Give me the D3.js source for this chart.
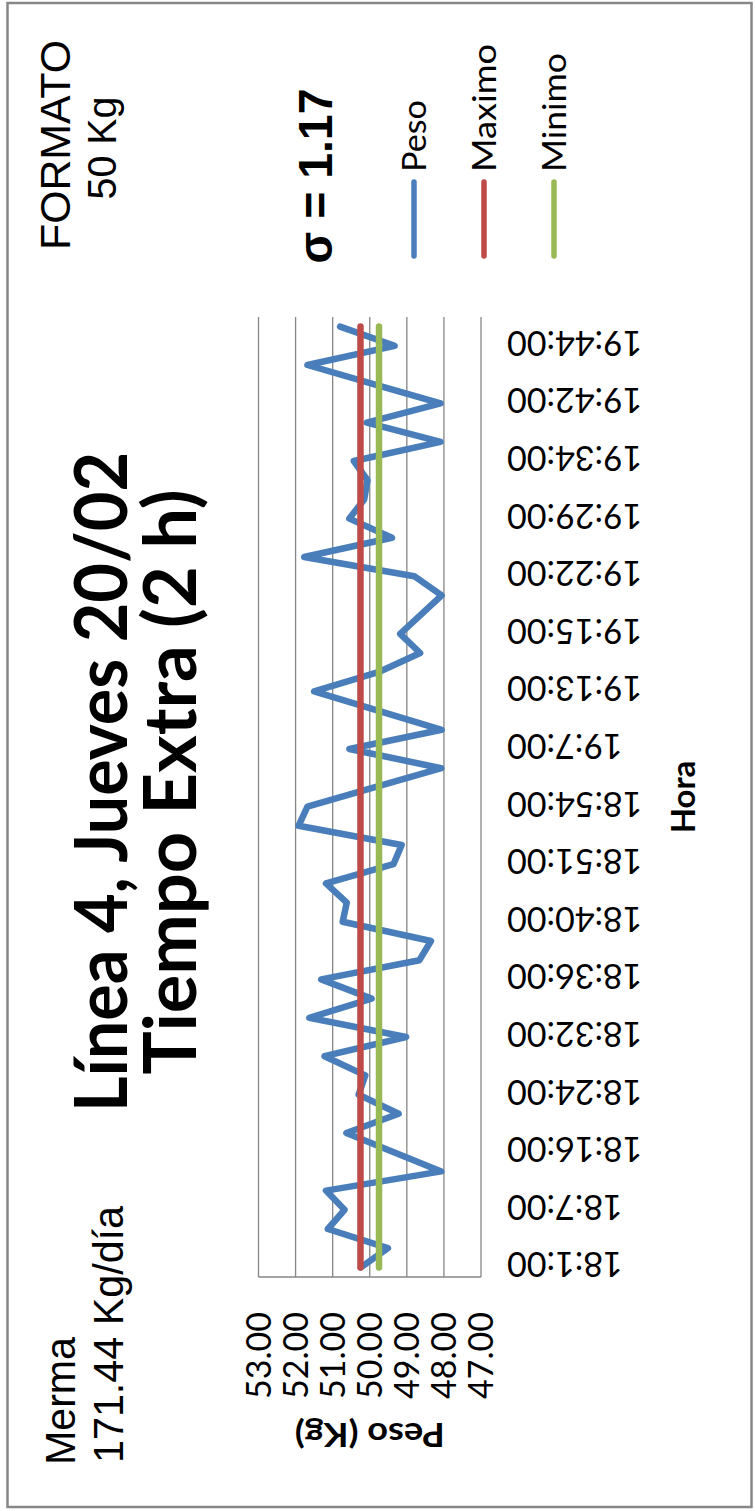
<!DOCTYPE html>
<html>
<head>
<meta charset="utf-8">
<script src="https://cdn.jsdelivr.net/npm/d3@7"></script>
<style>
  html, body { margin: 0; padding: 0; background: #fff; }
  svg { display: block; }
</style>
</head>
<body>
<div id="chart"></div>
<script>
// Peso (Kg) por muestra, de abajo (18:1:00) hacia arriba (19:44:00)
const peso = [
    50.24, 49.51, 51.13, 50.68, 51.18, 48.07, 49.35, 50.63, 49.22, 50.30,
    50.12, 51.22, 49.02, 51.63, 49.95, 51.31, 48.66, 48.35, 50.73, 50.62,
    51.18, 49.36, 49.14, 51.92, 51.68, 49.88, 48.07, 50.55, 48.06, 49.78,
    51.50, 49.77, 48.64, 49.18, 48.62, 48.06, 48.80, 51.77, 49.40, 50.55,
    50.15, 50.06, 50.43, 48.09, 50.08, 48.09, 49.90, 51.68, 49.33, 50.80
];
const maximo = 50.25;
const minimo = 49.75;

// Etiquetas visibles del eje Hora (una cada 3 muestras)
const horas = [
    "18:1:00", "18:7:00", "18:16:00", "18:24:00", "18:32:00", "18:36:00",
    "18:40:00", "18:51:00", "18:54:00", "19:7:00", "19:13:00", "19:15:00",
    "19:22:00", "19:29:00", "19:34:00", "19:42:00", "19:44:00"
];
const tickEvery = 3;
const pesoTicks = [53, 52, 51, 50, 49, 48, 47];

const series = [
    {name: "Peso", color: "#4A7EBB"},
    {name: "Maximo", color: "#BE4B48"},
    {name: "Minimo", color: "#98B954"}
];

const width = 755;
const height = 1511;
const calibri = "Lato, 'Open Sans', sans-serif";
const arial = "'Liberation Sans', Arial, sans-serif";

const svg = d3.select("#chart")
    .append("svg")
    .attr("width", width)
    .attr("height", height);

svg.append("rect")
    .attr("width", width)
    .attr("height", height)
    .attr("fill", "#fff");

// Chart frame
svg.append("rect")
    .attr("x", 7.5)
    .attr("y", 3)
    .attr("width", 744)
    .attr("height", 1504)
    .attr("fill", "none")
    .attr("stroke", "#878787")
    .attr("stroke-width", 2.5);

/**
 * Add a rotated text element.
 */
function addText(g, str, o) {
    const t = g.append("text")
        .attr("transform", `translate(${o.x},${o.y}) rotate(${o.rot})`)
        .attr("text-anchor", o.anchor || "start")
        .style("font-family", o.font)
        .style("font-size", o.size + "px")
        .style("font-weight", o.weight || "normal")
        .attr("fill", o.fill || "#000")
        .text(str);
    if (o.len) {
        t.attr("textLength", o.len).attr("lengthAdjust", "spacingAndGlyphs");
    }
    return t;
}

// Plot area (chart is drawn turned a quarter turn)
const plot = {left: 258.5, right: 481, top: 317, bottom: 1277};

const x = d3.scaleLinear()
    .domain([53, 47])
    .range([plot.left, plot.right]);

const y = d3.scalePoint()
    .domain(d3.range(peso.length))
    .range([plot.bottom, plot.top])
    .padding(0.5);

// Gridlines
svg.append("g")
    .selectAll("line")
    .data(pesoTicks)
    .enter().append("line")
    .attr("x1", d => x(d))
    .attr("x2", d => x(d))
    .attr("y1", plot.top)
    .attr("y2", plot.bottom)
    .attr("stroke", "#868686")
    .attr("stroke-width", 1.3);

// Category axis line
svg.append("line")
    .attr("x1", plot.left)
    .attr("x2", plot.right)
    .attr("y1", plot.bottom)
    .attr("y2", plot.bottom)
    .attr("stroke", "#868686")
    .attr("stroke-width", 1.6);

// Series lines
const line = d3.line()
    .x(d => x(d[1]))
    .y(d => y(d[0]));

const seriesData = [
    peso.map((v, i) => [i, v]),
    peso.map((v, i) => [i, maximo]),
    peso.map((v, i) => [i, minimo])
];

svg.append("g")
    .selectAll("path")
    .data(seriesData)
    .enter().append("path")
    .attr("d", line)
    .attr("fill", "none")
    .attr("stroke", (d, i) => series[i].color)
    .attr("stroke-width", 6.5)
    .attr("stroke-linejoin", "round")
    .attr("stroke-linecap", "round");

// Value axis tick labels
const yLabels = svg.append("g");
pesoTicks.forEach(t => {
    addText(yLabels, t.toFixed(2), {
        x: x(t) + 12, y: 1312, rot: -90, anchor: "end",
        font: calibri, size: 34
    });
});

// Category axis tick labels (upside down)
const xLabels = svg.append("g");
horas.forEach((h, k) => {
    addText(xLabels, h, {
        x: 507, y: y(k * tickEvery) - 15, rot: 180, anchor: "end",
        font: calibri, size: 34
    });
});

// Axis titles
addText(svg, "Peso (Kg)", {
    x: (plot.left + plot.right) / 2, y: 1423, rot: 180, anchor: "middle",
    font: calibri, size: 33, weight: "bold", len: 150
});
addText(svg, "Hora", {
    x: 695, y: (plot.top + plot.bottom) / 2, rot: -90, anchor: "middle",
    font: calibri, size: 33, weight: "bold"
});

// Title
addText(svg, "Línea 4, Jueves 20/02", {
    x: 127, y: 782, rot: -90, anchor: "middle",
    font: calibri, size: 73, weight: "bold", len: 660
});
addText(svg, "Tiempo Extra (2 h)", {
    x: 196, y: 782, rot: -90, anchor: "middle",
    font: calibri, size: 73, weight: "bold", len: 585
});

// Legend
const legendX = [414, 484, 554];
series.forEach((s, i) => {
    svg.append("line")
        .attr("x1", legendX[i])
        .attr("x2", legendX[i])
        .attr("y1", 182)
        .attr("y2", 256)
        .attr("stroke", s.color)
        .attr("stroke-width", 5.5)
        .attr("stroke-linecap", "round");
    addText(svg, s.name, {
        x: legendX[i] + 12, y: 172, rot: -90, anchor: "start",
        font: calibri, size: 33, len: [72, 128, 119][i]
    });
});

// Sigma
addText(svg, "σ = 1.17", {
    x: 332, y: 176, rot: -90, anchor: "middle",
    font: arial, size: 48, weight: "bold", len: 175
});

// Format
addText(svg, "FORMATO", {
    x: 70, y: 145, rot: -90, anchor: "middle",
    font: arial, size: 42, len: 210
});
addText(svg, "50 Kg", {
    x: 116, y: 148, rot: -90, anchor: "middle",
    font: arial, size: 40, len: 103
});

// Merma
addText(svg, "Merma", {
    x: 75, y: 1465, rot: -90, anchor: "start",
    font: arial, size: 42, len: 128
});
addText(svg, "171.44 Kg/día", {
    x: 123, y: 1463, rot: -90, anchor: "start",
    font: arial, size: 42, len: 257
});
</script>
</body>
</html>
